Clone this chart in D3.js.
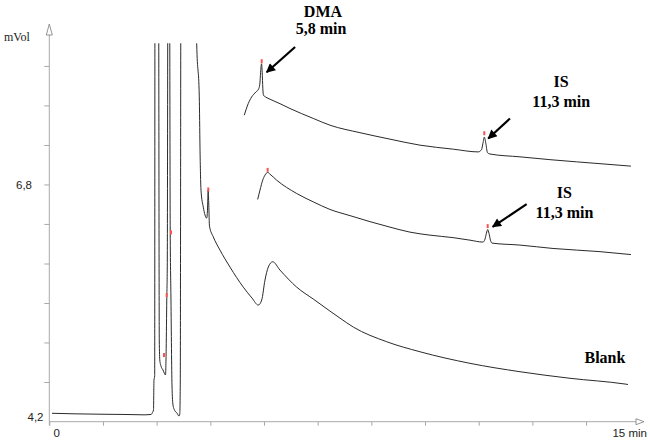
<!DOCTYPE html>
<html>
<head>
<meta charset="utf-8">
<script src="https://cdn.jsdelivr.net/npm/d3@7"></script>
<style>
  html, body { margin: 0; padding: 0; background: #fff; }
  svg { display: block; }
</style>
</head>
<body>
<svg id="chart" width="650" height="448"></svg>
<script>
// ---- Data (time in min, signal in mVol) ----
const xTickValues = [0, 1.39, 2.78, 4.17, 5.56, 6.95, 8.34, 9.73, 11.12, 12.51, 13.9];
const yTickValues = [4.2, 4.633, 5.067, 5.5, 5.933, 6.367, 6.8, 7.233, 7.667, 8.1];
const yTickLabels = [{v: 6.8, text: "6,8"}, {v: 4.2, text: "4,2"}];
const xTickLabels = [{t: 0, text: "0"}];

const blank = [
  [0.070,4.290],[0.665,4.284],[1.313,4.280],[1.960,4.277],[2.478,4.273],[2.633,4.277],
  [2.672,4.299],[2.698,4.326],[2.711,4.655],[2.729,4.699],[2.737,9.5],[2.828,9.5],
  [2.848,5.093],[2.861,4.874],[2.892,4.808],[2.944,4.765],[2.983,4.726],[3.009,4.710],
  [3.027,5.000],[3.042,5.532],[3.055,5.904],[3.074,9.5],[3.112,9.5],[3.131,6.300],
  [3.151,5.532],[3.177,4.600],[3.203,4.381],[3.255,4.315],[3.307,4.293],[3.358,4.260],
  [3.379,4.282],[3.392,4.655],[3.410,9.5],[3.773,9.5],[3.817,8.35],[3.884,7.760],
  [3.902,7.212],[3.928,6.738],[3.988,6.551],[4.076,6.431],[4.096,6.518],[4.114,6.738],
  [4.130,6.573],[4.148,6.343],[4.246,6.226],[4.420,6.080],[4.679,5.894],[5.023,5.674],
  [5.249,5.554],[5.412,5.477],[5.500,5.532],[5.585,5.751],[5.671,5.894],[5.785,5.952],
  [5.974,5.861],[6.406,5.674],[6.836,5.543],[7.268,5.411],[7.527,5.334],[7.872,5.236],
  [8.736,5.075],[9.599,4.965],[10.894,4.838],[12.188,4.746],[13.483,4.674],[14.907,4.611],
  [14.985,4.606]
];

const sampleMid = [
  [5.396,6.636],[5.456,6.738],[5.526,6.847],[5.585,6.902],[5.655,6.932],[5.715,6.913],
  [5.888,6.847],[6.406,6.701],[6.836,6.609],[7.268,6.526],[7.786,6.458],[8.304,6.392],
  [8.822,6.332],[9.340,6.277],[9.858,6.244],[10.453,6.217],[10.894,6.189],[11.230,6.168],
  [11.282,6.200],[11.320,6.266],[11.352,6.305],[11.385,6.266],[11.424,6.189],[11.463,6.157],
  [12.188,6.135],[13.043,6.098],[14.260,6.063],[15.062,6.031]
];

const sampleTop = [
  [5.049,7.560],[5.153,7.688],[5.241,7.760],[5.352,7.815],[5.417,7.845],[5.451,7.899],
  [5.472,8.031],[5.495,8.124],[5.513,8.031],[5.529,7.856],[5.546,7.779],[5.611,7.757],
  [5.715,7.735],[5.974,7.686],[6.233,7.633],[6.836,7.524],[7.268,7.450],[8.045,7.368],
  [8.822,7.297],[9.599,7.231],[10.461,7.187],[11.108,7.157],[11.191,7.181],[11.230,7.253],
  [11.264,7.319],[11.303,7.253],[11.347,7.149],[11.411,7.134],[12.188,7.103],[12.965,7.072],
  [13.656,7.048],[14.260,7.028],[15.062,7.001]
];

const peakMarks = [
  [2.970,4.929],[3.040,5.587],[3.151,6.274],[4.117,6.745],
  [5.500,8.152],[5.655,6.960],[11.264,7.362],[11.352,6.343]
];

const arrows = [
  {from: [6.365, 8.308], to: [5.629, 8.031]},
  {from: [11.929, 7.524], to: [11.367, 7.304]},
  {from: [12.361, 6.584], to: [11.481, 6.335]}
];

const labels = [
  {t: 7.087, v: 8.637, text: "DMA"},
  {t: 7.035, v: 8.448, text: "5,8 min"},
  {t: 13.250, v: 7.870, text: "IS"},
  {t: 13.257, v: 7.651, text: "11,3 min"},
  {t: 13.335, v: 6.647, text: "IS"},
  {t: 13.340, v: 6.427, text: "11,3 min"},
  {t: 14.389, v: 4.838, text: "Blank"}
];

const xMax = 15.4, yMin = 4.2, yMax = 8.56, clipTop = 8.35;

// ---- Scales ----
const svg = d3.select("#chart");
const x = d3.scaleLinear().domain([0, xMax]).range([49.3, 644]);
const y = d3.scaleLinear().domain([yMin, yMax]).range([421.5, 24]);
const axisColor = "#a8a8a8";

// clip
svg.append("defs").append("clipPath").attr("id", "plotClip")
  .append("rect")
  .attr("x", x(0)).attr("y", y(clipTop))
  .attr("width", x(xMax) - x(0)).attr("height", y(yMin) - y(clipTop) + 4);

// ---- Axes ----
const xAxis = svg.append("g").attr("transform", `translate(0,${y(yMin) + 0.2})`)
  .call(d3.axisBottom(x).tickValues(xTickValues).tickSize(4).tickFormat(""));
xAxis.select(".domain").remove();
xAxis.selectAll("line").attr("stroke", axisColor);

const yAxis = svg.append("g").attr("transform", `translate(${x(0)},0)`)
  .call(d3.axisLeft(y).tickValues(yTickValues.slice(1)).tickSize(5).tickFormat(""));
yAxis.select(".domain").remove();
yAxis.selectAll("line").attr("stroke", axisColor);

// axis lines
svg.append("line").attr("x1", x(0)).attr("x2", x(xMax) - 7)
  .attr("y1", y(yMin) + 0.2).attr("y2", y(yMin) + 0.2)
  .attr("stroke", axisColor).attr("stroke-width", 1);
svg.append("line").attr("x1", x(0)).attr("x2", x(0))
  .attr("y1", y(yMin) + 4).attr("y2", y(yMax) + 11)
  .attr("stroke", axisColor).attr("stroke-width", 1);
// open arrow heads
const xa = x(xMax), ya = y(yMin) + 0.2;
svg.append("path").attr("d", `M${xa},${ya} L${xa - 8},${ya - 3} L${xa - 8},${ya + 3} Z`)
  .attr("fill", "#fff").attr("stroke", "#888").attr("stroke-width", 0.9);
const yx = x(0), yy = y(yMax);
svg.append("path").attr("d", `M${yx},${yy} L${yx - 3},${yy + 11} L${yx + 3},${yy + 11} Z`)
  .attr("fill", "#fff").attr("stroke", "#888").attr("stroke-width", 0.9);

// tick labels
const sans = "'Liberation Sans', Arial, sans-serif";
svg.append("text").attr("x", 32).attr("y", y(yTickLabels[0].v) + 4.3)
  .attr("text-anchor", "end").attr("font-family", sans).attr("font-size", 11.5)
  .attr("fill", "#222").text(yTickLabels[0].text);
svg.append("text").attr("x", 43.5).attr("y", y(yTickLabels[1].v) - 0.5)
  .attr("text-anchor", "end").attr("font-family", sans).attr("font-size", 11.5)
  .attr("fill", "#222").text(yTickLabels[1].text);
svg.append("text").attr("x", x(xTickLabels[0].t) + 7.4).attr("y", 437)
  .attr("text-anchor", "middle").attr("font-family", sans).attr("font-size", 11.5)
  .attr("fill", "#222").text(xTickLabels[0].text);
svg.append("text").attr("x", 647).attr("y", 437)
  .attr("text-anchor", "end").attr("font-family", sans).attr("font-size", 11.5)
  .attr("fill", "#222").text("15 min");
svg.append("text").attr("x", 4).attr("y", 40.5)
  .attr("font-family", "'Liberation Serif', 'Times New Roman', serif").attr("font-size", 12)
  .attr("fill", "#222").text("mVol");

// ---- Traces ----
const line = d3.line().x(d => x(d[0])).y(d => y(d[1])).curve(d3.curveMonotoneX);
const g = svg.append("g").attr("clip-path", "url(#plotClip)");
[blank, sampleMid, sampleTop].forEach(series => {
  g.append("path").datum(series).attr("d", line)
    .attr("fill", "none").attr("stroke", "#2a2a2a").attr("stroke-width", 1)
    .attr("stroke-linejoin", "round");
});

// red peak marks
g.selectAll("rect.mark").data(peakMarks).join("rect").attr("class", "mark")
  .attr("x", d => x(d[0]) - 1).attr("y", d => y(d[1]) - 2)
  .attr("width", 2).attr("height", 4).attr("fill", "#ff5050");

// ---- Annotations ----
svg.append("defs").append("marker").attr("id", "ah")
  .attr("viewBox", "0 0 10 10").attr("refX", 9).attr("refY", 5)
  .attr("markerWidth", 5).attr("markerHeight", 4.2).attr("orient", "auto")
  .attr("markerUnits", "strokeWidth")
  .append("path").attr("d", "M0,0 L10,5 L0,10 Z").attr("fill", "#000");

arrows.forEach(a => {
  svg.append("line")
    .attr("x1", x(a.from[0])).attr("y1", y(a.from[1]))
    .attr("x2", x(a.to[0])).attr("y2", y(a.to[1]))
    .attr("stroke", "#000").attr("stroke-width", 2.2)
    .attr("marker-end", "url(#ah)");
});

svg.selectAll("text.lbl").data(labels).join("text").attr("class", "lbl")
  .attr("x", d => x(d.t)).attr("y", d => y(d.v))
  .attr("text-anchor", "middle")
  .attr("font-family", "'Liberation Serif', 'Times New Roman', serif")
  .attr("font-weight", "bold").attr("font-size", 16).attr("fill", "#000")
  .text(d => d.text);
</script>
</body>
</html>
